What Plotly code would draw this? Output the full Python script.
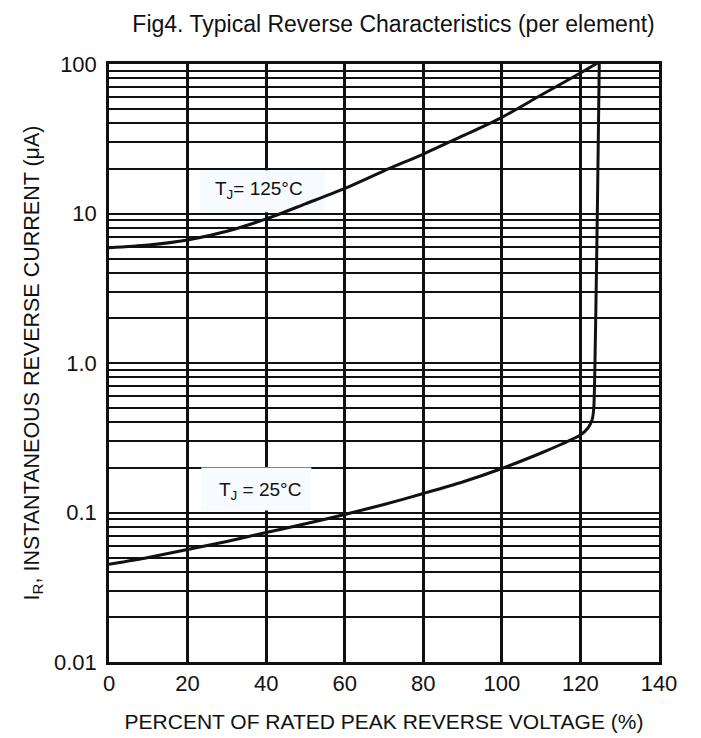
import math
import plotly.graph_objects as go

# ---- data ----
pct_125 = [0, 10, 20, 30, 40, 50, 60, 70, 80, 90, 100, 110, 120, 125]
ir_125 = [5.9, 6.15, 6.65, 7.6, 9.2, 11.6, 14.7, 19.3, 25.0, 33.0, 44.0, 62.0, 87.0, 104.0]

pct_25 = [0, 10, 20, 30, 40, 50, 60, 70, 80, 90, 100, 110, 115, 120, 122, 123, 123.4, 123.7, 124.0, 124.3, 124.6, 124.8]
ir_25 = [0.045, 0.050, 0.0566, 0.064, 0.0735, 0.084, 0.097, 0.113, 0.134, 0.16, 0.197, 0.25, 0.285, 0.33, 0.37, 0.42,
         0.5, 1.0, 3.0, 10.0, 40.0, 104.0]

x_ticks = [0, 20, 40, 60, 80, 100, 120, 140]
y_ticks = [0.01, 0.1, 1, 10, 100]
y_tick_text = ["0.01", "0.1", "1.0", "10", "100"]
y_minor = [m * d for d in [0.01, 0.1, 1, 10] for m in range(2, 10)]

labels = ["T<sub>J</sub>= 125°C", "T<sub>J</sub> = 25°C"]
label_x = [38.2, 38.4]
label_y = [14.3, 0.14]
label_box_x = [(23.0, 55.0), (23.5, 51.5)]
label_box_y = [(10.2, 19.5), (0.103, 0.2)]

FONT = "Liberation Sans, Arial, sans-serif"
INK = "#111111"

fig = go.Figure()
fig.add_trace(go.Scatter(x=pct_125, y=ir_125, mode="lines", line=dict(color=INK, width=3, shape="spline", smoothing=0.8),
                         showlegend=False, hoverinfo="skip"))
fig.add_trace(go.Scatter(x=pct_25, y=ir_25, mode="lines", line=dict(color=INK, width=3, shape="spline", smoothing=0.6),
                         showlegend=False, hoverinfo="skip"))

for (bx0, bx1), (by0, by1) in zip(label_box_x, label_box_y):
    fig.add_shape(type="rect", xref="x", yref="y", x0=bx0, x1=bx1, y0=by0, y1=by1,
                  fillcolor="#f7faff", line=dict(width=0), layer="between")

for t, lx, ly in zip(labels, label_x, label_y):
    fig.add_annotation(x=lx, y=math.log10(ly), xref="x", yref="y", text=t, showarrow=False,
                       font=dict(family=FONT, size=19, color=INK))

fig.update_layout(
    width=701, height=738,
    margin=dict(l=101, r=50, t=56, b=84),
    paper_bgcolor="white", plot_bgcolor="white",
    font=dict(family=FONT, color=INK),
    title=dict(text="Fig4. Typical Reverse Characteristics (per element)",
               font=dict(family=FONT, size=23, color=INK),
               x=0.55, xanchor="center", y=0.979, yanchor="middle"),
)

fig.update_xaxes(
    range=[0, 140], tickmode="array", tickvals=x_ticks, ticktext=[str(v) for v in x_ticks],
    showgrid=True, gridcolor=INK, gridwidth=2.5, zeroline=False,
    showline=True, linecolor=INK, linewidth=2.5, mirror=True,
    tickfont=dict(family=FONT, size=22, color=INK), ticks="",
    title=dict(text="PERCENT OF RATED PEAK REVERSE VOLTAGE (%)", font=dict(family=FONT, size=21, color=INK),
               standoff=20),
)
fig.update_yaxes(
    type="log", range=[-2, 2], tickmode="array", tickvals=y_ticks, ticktext=y_tick_text,
    showgrid=True, gridcolor=INK, gridwidth=2, zeroline=False,
    showline=True, linecolor=INK, linewidth=2.5, mirror=True,
    tickfont=dict(family=FONT, size=22, color=INK), ticks="", ticklabelstandoff=5,
    minor=dict(tickmode="array", tickvals=y_minor, showgrid=True, gridcolor=INK, gridwidth=1.8),
    title=dict(text="I<sub>R</sub>, INSTANTANEOUS REVERSE CURRENT (μA)", font=dict(family=FONT, size=21.5, color=INK),
               standoff=9),
)

fig.write_html("out.html")
